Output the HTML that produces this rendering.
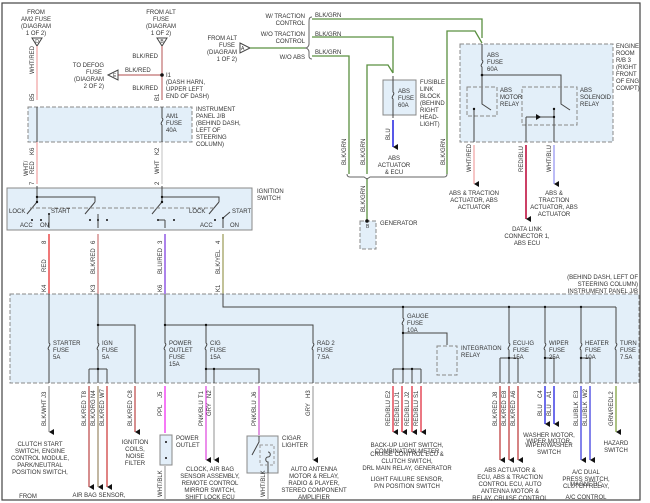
<!DOCTYPE html>
<html><head><style>
html,body{margin:0;padding:0;background:#fff;}
svg{display:block;font-family:"Liberation Sans",sans-serif;}
text{font-size:6px;fill:#333;}
.c{text-anchor:middle}
.e{text-anchor:end}
.box{fill:#e3eff9;stroke:#888;stroke-width:1;stroke-dasharray:4,2}
.sb{fill:#e3eff9;stroke:#888;stroke-width:1}
.k{stroke:#444;stroke-width:1;fill:none}
.g{stroke:#5a9040;stroke-width:1.3;fill:none}
</style></head><body>
<svg width="650" height="503" viewBox="0 0 650 503">
<rect x="2" y="3" width="638" height="497" fill="#fff" stroke="#444" stroke-width="1.2"/>
<defs>
<marker id="a" markerWidth="6" markerHeight="6" refX="3" refY="5" orient="auto-start-reverse" markerUnits="userSpaceOnUse"><path d="M0,0L6,0L3,5z" fill="#111"/></marker>
</defs>

<!-- top labels -->
<text class="c" x="36" y="14">FROM</text><text class="c" x="36" y="21">AM2 FUSE</text><text class="c" x="36" y="28">(DIAGRAM</text><text class="c" x="36" y="35">1 OF 2)</text>
<path d="M32,38L42,38L37,46z" fill="#fff" stroke="#444"/><text class="c" x="37" y="43" style="font-size:5px">D</text>
<text class="c" x="161" y="14">FROM ALT</text><text class="c" x="161" y="21">FUSE</text><text class="c" x="161" y="28">(DIAGRAM</text><text class="c" x="161" y="35">1 OF 2)</text>
<path d="M157,38L167,38L162,46z" fill="#fff" stroke="#444"/><text class="c" x="162" y="43" style="font-size:5px">B</text>
<line x1="37" y1="46" x2="37" y2="100" stroke="#f0a0a0" stroke-width="1.2"/>
<text transform="translate(34,74) rotate(-90)">WHT/RED</text>
<line x1="162" y1="46" x2="162" y2="100" stroke="#c07070" stroke-width="1.2"/>
<text class="e" x="158" y="58">BLK/RED</text><text class="e" x="158" y="90">BLK/RED</text>
<line x1="118" y1="75" x2="162" y2="75" stroke="#c07070" stroke-width="1.2"/>
<circle cx="162" cy="75" r="1.8" fill="#111"/>
<path d="M108,75L118,70L118,80z" fill="#fff" stroke="#444"/><text x="113" y="77" style="font-size:5px">E</text>
<text x="125" y="72">BLK/RED</text>
<text class="e" x="104" y="67">TO DEFOG</text><text class="e" x="102" y="74">FUSE</text><text class="e" x="104" y="81">(DIAGRAM</text><text class="e" x="104" y="88">2 OF 2)</text>
<text x="166" y="77">I1</text><text x="166" y="84">(DASH HARN,</text><text x="166" y="91">UPPER LEFT</text><text x="166" y="98">END OF DASH)</text>
<text transform="translate(34,101) rotate(-90)">B5</text><text transform="translate(159,101) rotate(-90)">B1</text>

<!-- top JB -->
<rect class="box" x="28" y="107" width="164" height="35"/>
<line class="k" x1="37" y1="107" x2="37" y2="142"/>
<path class="k" d="M162,107V118c3,2 -3,5 0,7V142"/>
<text x="166" y="118">AM1</text><text x="166" y="125">FUSE</text><text x="166" y="132">40A</text>
<text x="196" y="111">INSTRUMENT</text><text x="196" y="118">PANEL J/B</text><text x="196" y="125">(BEHIND DASH,</text><text x="196" y="132">LEFT OF</text><text x="196" y="139">STEERING</text><text x="196" y="146">COLUMN)</text>
<line x1="37" y1="142" x2="37" y2="184" stroke="#f0a0a0" stroke-width="1.2"/>
<line x1="162" y1="142" x2="162" y2="184" stroke="#ccc" stroke-width="1.2"/>
<text transform="translate(28,176) rotate(-90)">WHT/</text><text transform="translate(34,174) rotate(-90)">RED</text>
<text transform="translate(159,174) rotate(-90)">WHT</text>
<text transform="translate(34,155) rotate(-90)">K6</text><text transform="translate(159,155) rotate(-90)">K2</text>
<text transform="translate(34,185) rotate(-90)">7</text><text transform="translate(159,185) rotate(-90)">2</text>

<!-- ignition switch -->
<rect class="sb" x="7" y="188" width="245" height="42"/>
<text x="257" y="193">IGNITION</text><text x="257" y="200">SWITCH</text>
<g class="k">
<path d="M37,186V197H95V202M37,197V202L27,214M95,202L85,214M162,186V197H219V202M162,197V202L152,214M219,202L209,214M49,214V228M98,214V228M165,220V228M158,220H165M223,218V228M223,218L230,212"/>
</g>
<line x1="30" y1="208" x2="215" y2="208" stroke="#888" stroke-dasharray="4,2"/>
<g fill="#111"><circle cx="37" cy="202" r="1.2"/><circle cx="37" cy="197" r="1.2"/><circle cx="32" cy="220" r="1"/><circle cx="41" cy="220" r="1"/><circle cx="49" cy="214" r="1"/><circle cx="90" cy="220" r="1"/><circle cx="98" cy="220" r="1"/><circle cx="107" cy="220" r="1"/><circle cx="162" cy="197" r="1.2"/><circle cx="162" cy="202" r="1.2"/><circle cx="158" cy="220" r="1"/><circle cx="174" cy="220" r="1"/><circle cx="215" cy="220" r="1"/><circle cx="223" cy="218" r="1"/></g>
<text x="9" y="213">LOCK</text><text x="51" y="213">START</text><text x="20" y="227">ACC</text><text x="40" y="227">ON</text>
<text x="189" y="213">LOCK</text><text x="232" y="213">START</text><text x="200" y="227">ACC</text><text x="230" y="227">ON</text>

<!-- switch outputs -->
<line x1="49" y1="234" x2="49" y2="294" stroke="#e83030" stroke-width="1.3"/>
<line x1="98" y1="234" x2="98" y2="294" stroke="#d08080" stroke-width="1.3"/>
<line x1="165" y1="234" x2="165" y2="294" stroke="#8040e0" stroke-width="1.3"/>
<line x1="223" y1="234" x2="223" y2="294" stroke="#a0a060" stroke-width="1.3"/>
<text transform="translate(46,244) rotate(-90)">8</text><text transform="translate(95,244) rotate(-90)">6</text><text transform="translate(162,244) rotate(-90)">3</text><text transform="translate(220,244) rotate(-90)">4</text>
<text transform="translate(46,272) rotate(-90)">RED</text><text transform="translate(95,274) rotate(-90)">BLK/RED</text><text transform="translate(162,274) rotate(-90)">BLU/RED</text><text transform="translate(220,274) rotate(-90)">BLK/YEL</text>
<text transform="translate(46,292) rotate(-90)">K4</text><text transform="translate(95,292) rotate(-90)">K3</text><text transform="translate(162,292) rotate(-90)">K6</text><text transform="translate(220,292) rotate(-90)">K1</text>

<!-- top right traction -->
<text class="e" x="305" y="18">W/ TRACTION</text><text class="e" x="305" y="25">CONTROL</text>
<text class="e" x="305" y="36">W/O TRACTION</text><text class="e" x="305" y="43">CONTROL</text>
<text class="e" x="305" y="59">W/O ABS</text>
<text class="e" x="237" y="40">FROM ALT</text><text class="e" x="235" y="47">FUSE</text><text class="e" x="237" y="54">(DIAGRAM</text><text class="e" x="237" y="61">1 OF 2)</text>
<path d="M240,43L250,48L240,53z" fill="#fff" stroke="#444"/><text x="241" y="50" style="font-size:5px">A</text>
<path class="g" d="M250,48H306"/>
<path class="k" d="M312,17c-3,0 -3,2 -3,6V44c0,3 -3,4 -3,4c0,0 3,1 3,4V56c0,2 1,3 3,3" style="stroke:#666"/>
<text x="315" y="17">BLK/GRN</text><text x="315" y="36">BLK/GRN</text><text x="315" y="54">BLK/GRN</text>
<path class="g" d="M312,19H482V38M312,37H393V73M312,56H349V174M367,174V65H388L393,73M447,174V31H475L482,43"/>
<path class="g" d="M367,178V220"/>
<path d="M347,174c0,2 1,3 3,3H364l3,2 3,-2H444c2,0 3,-1 3,-3" fill="none" stroke="#666"/>
<text transform="translate(346,165) rotate(-90)">BLK/GRN</text><text transform="translate(365,165) rotate(-90)">BLK/GRN</text><text transform="translate(445,165) rotate(-90)">BLK/GRN</text><text transform="translate(365,212) rotate(-90)">BLK/GRN</text>
<rect class="box" x="360" y="221" width="16" height="28"/><circle cx="367" cy="221" r="1.8" fill="#111"/>
<text x="366" y="228" style="font-size:5px">B</text><text x="380" y="225">GENERATOR</text>

<!-- fusible link -->
<rect class="sb" x="383" y="80" width="33" height="35"/>
<path class="k" d="M393,76V92c3,2 -3,5 0,7V118"/>
<text x="398" y="93">ABS</text><text x="398" y="100">FUSE</text><text x="398" y="107">60A</text>
<text x="420" y="84">FUSIBLE</text><text x="420" y="91">LINK</text><text x="420" y="98">BLOCK</text><text x="420" y="105">(BEHIND</text><text x="420" y="112">RIGHT</text><text x="420" y="119">HEAD-</text><text x="420" y="126">LIGHT)</text>
<line x1="393" y1="120" x2="393" y2="147" stroke="#2020e0" stroke-width="1.5" marker-end="url(#a)"/>
<text transform="translate(390,140) rotate(-90)">BLU</text>
<text class="c" x="394" y="160">ABS</text><text class="c" x="394" y="167">ACTUATOR</text><text class="c" x="394" y="174">&amp; ECU</text>

<!-- engine room JB -->
<rect class="box" x="460" y="44" width="153" height="98"/>
<text x="616" y="48">ENGINE</text><text x="616" y="55">ROOM</text><text x="616" y="62">R/B 3</text><text x="616" y="69">(RIGHT</text><text x="616" y="76">FRONT</text><text x="616" y="83">OF ENG</text><text x="616" y="90">COMPT)</text>
<path class="k" d="M482,44V60c3,2 -3,5 0,7V75H561V87M482,75V104L491,110M561,87V104L570,110"/>
<text x="487" y="57">ABS</text><text x="487" y="64">FUSE</text><text x="487" y="71">60A</text>
<circle cx="482" cy="75" r="1.3" fill="#111"/>
<rect x="467" y="87" width="30" height="29" fill="none" stroke="#888" stroke-dasharray="4,2"/>
<rect x="522" y="87" width="55" height="38" fill="none" stroke="#888" stroke-dasharray="4,2"/>
<text x="500" y="92">ABS</text><text x="500" y="99">MOTOR</text><text x="500" y="106">RELAY</text>
<text x="580" y="92">ABS</text><text x="580" y="99">SOLENOID</text><text x="580" y="106">RELAY</text>
<path class="k" d="M474,109V142M554,109V142M526,117H554M526,117V142"/>
<path d="M536,114L536,120L541,117z" fill="#111"/>
<circle cx="474" cy="109" r="1.2" fill="#111"/><circle cx="554" cy="109" r="1.2" fill="#111"/><circle cx="554" cy="117" r="1.2" fill="#111"/>
<line x1="474" y1="145" x2="474" y2="184" stroke="#f0a0a0" stroke-width="1.2" marker-end="url(#a)"/>
<line x1="526" y1="145" x2="526" y2="219" stroke="#c01040" stroke-width="1.6" marker-end="url(#a)"/>
<line x1="554" y1="145" x2="554" y2="184" stroke="#9090f0" stroke-width="1.2" marker-end="url(#a)"/>
<text transform="translate(471,172) rotate(-90)">WHT/RED</text><text transform="translate(523,172) rotate(-90)">RED/BLU</text><text transform="translate(551,172) rotate(-90)">WHT/BLU</text>
<text class="c" x="474" y="195">ABS &amp; TRACTION</text><text class="c" x="474" y="202">ACTUATOR, ABS</text><text class="c" x="474" y="209">ACTUATOR</text>
<text class="c" x="554" y="195">ABS &amp;</text><text class="c" x="554" y="202">TRACTION</text><text class="c" x="554" y="209">ACTUATOR, ABS</text><text class="c" x="554" y="216">ACTUATOR</text>
<text class="c" x="527" y="231">DATA LINK</text><text class="c" x="527" y="238">CONNECTOR 1,</text><text class="c" x="527" y="245">ABS ECU</text>

<!-- main JB -->
<text class="e" x="638" y="279">(BEHIND DASH, LEFT OF</text><text class="e" x="638" y="286">STEERING COLUMN)</text><text class="e" x="638" y="293">INSTRUMENT PANEL J/B</text>
<rect class="box" x="10" y="294" width="629" height="89"/>
<g class="k">
<path d="M49,294V343c3,2 -3,5 0,7V383"/>
<path d="M98,294V343c3,2 -3,5 0,7V383M98,325H135V383M89,369H107M89,369V383M107,369V383"/>
<path d="M165,294V343c3,2 -3,5 0,7V383M165,325H313V343c3,2 -3,5 0,7V383M206,325V343c3,2 -3,5 0,7V383M206,369H259V383M214,369V383"/>
<path d="M223,294V307H616M403,307V318c3,2 -3,5 0,7V369M403,333H447V345M393,369H421M393,369V383M412,369V383M421,369V383M403,369V383"/>
<path d="M509,307V343c3,2 -3,5 0,7V383M500,358H518M500,358V383M518,358V383"/>
<path d="M545,307V343c3,2 -3,5 0,7V383M545,358H554V383"/>
<path d="M581,307V343c3,2 -3,5 0,7V383M581,358H590V383"/>
<path d="M616,307V343c3,2 -3,5 0,7V383"/>
</g>
<g fill="#111"><circle cx="98" cy="325" r="1.2"/><circle cx="165" cy="325" r="1.2"/><circle cx="206" cy="325" r="1.2"/><circle cx="98" cy="369" r="1.2"/><circle cx="206" cy="369" r="1.2"/><circle cx="214" cy="369" r="1.2"/><circle cx="403" cy="307" r="1.2"/><circle cx="509" cy="307" r="1.2"/><circle cx="545" cy="307" r="1.2"/><circle cx="581" cy="307" r="1.2"/><circle cx="403" cy="333" r="1.2"/><circle cx="403" cy="369" r="1.2"/><circle cx="412" cy="369" r="1.2"/><circle cx="509" cy="358" r="1.2"/><circle cx="545" cy="358" r="1.2"/><circle cx="581" cy="358" r="1.2"/></g>
<rect x="437" y="346" width="20" height="29" fill="none" stroke="#888" stroke-dasharray="4,2"/>
<text x="461" y="350">INTEGRATION</text><text x="461" y="357">RELAY</text>
<text x="53" y="345">STARTER</text><text x="53" y="352">FUSE</text><text x="53" y="359">5A</text>
<text x="102" y="345">IGN</text><text x="102" y="352">FUSE</text><text x="102" y="359">5A</text>
<text x="169" y="345">POWER</text><text x="169" y="352">OUTLET</text><text x="169" y="359">FUSE</text><text x="169" y="366">15A</text>
<text x="210" y="345">CIG</text><text x="210" y="352">FUSE</text><text x="210" y="359">15A</text>
<text x="317" y="345">RAD 2</text><text x="317" y="352">FUSE</text><text x="317" y="359">7.5A</text>
<text x="407" y="318">GAUGE</text><text x="407" y="325">FUSE</text><text x="407" y="332">10A</text>
<text x="513" y="345">ECU-IG</text><text x="513" y="352">FUSE</text><text x="513" y="359">15A</text>
<text x="549" y="345">WIPER</text><text x="549" y="352">FUSE</text><text x="549" y="359">25A</text>
<text x="585" y="345">HEATER</text><text x="585" y="352">FUSE</text><text x="585" y="359">10A</text>
<text x="620" y="345">TURN</text><text x="620" y="352">FUSE</text><text x="620" y="359">7.5A</text>

<!-- bottom wires -->
<g stroke-width="1.3" fill="none">
<line x1="49" y1="386" x2="49" y2="432" stroke="#999" marker-end="url(#a)"/>
<line x1="89" y1="386" x2="89" y2="487" stroke="#c05050" marker-end="url(#a)"/>
<line x1="98" y1="386" x2="98" y2="487" stroke="#a09070" marker-end="url(#a)"/>
<line x1="107" y1="386" x2="107" y2="487" stroke="#d04040" marker-end="url(#a)"/>
<line x1="135" y1="386" x2="135" y2="432" stroke="#c05050" marker-end="url(#a)"/>
<line x1="165" y1="386" x2="165" y2="433" stroke="#f030f0"/>
<line x1="206" y1="386" x2="206" y2="460" stroke="#e050e0" marker-end="url(#a)"/>
<line x1="214" y1="386" x2="214" y2="460" stroke="#aaa" marker-end="url(#a)"/>
<line x1="259" y1="386" x2="259" y2="435" stroke="#d060d0"/>
<line x1="313" y1="386" x2="313" y2="460" stroke="#aaa" marker-end="url(#a)"/>
<line x1="393" y1="386" x2="393" y2="432" stroke="#e03040" marker-end="url(#a)"/>
<line x1="402" y1="386" x2="402" y2="432" stroke="#e03040" marker-end="url(#a)"/>
<line x1="412" y1="386" x2="412" y2="432" stroke="#e03040" marker-end="url(#a)"/>
<line x1="421" y1="386" x2="421" y2="432" stroke="#e03040" marker-end="url(#a)"/>
<line x1="500" y1="386" x2="500" y2="460" stroke="#c04040" marker-end="url(#a)"/>
<line x1="509" y1="386" x2="509" y2="460" stroke="#c04040" marker-end="url(#a)"/>
<line x1="518" y1="386" x2="518" y2="460" stroke="#c04040" marker-end="url(#a)"/>
<line x1="545" y1="386" x2="545" y2="424" stroke="#2020e0" marker-end="url(#a)"/>
<line x1="554" y1="386" x2="554" y2="424" stroke="#2020e0" marker-end="url(#a)"/>
<line x1="581" y1="386" x2="581" y2="460" stroke="#4040e0" marker-end="url(#a)"/>
<line x1="590" y1="386" x2="590" y2="460" stroke="#4040e0" marker-end="url(#a)"/>
<line x1="616" y1="386" x2="616" y2="432" stroke="#80a040" marker-end="url(#a)"/>
<line x1="165" y1="466" x2="165" y2="500" stroke="#aaa"/>
<line x1="268" y1="473" x2="268" y2="500" stroke="#aaa"/>
</g>
<g>
<text transform="translate(46,398) rotate(-90)">J3</text><text transform="translate(46,426) rotate(-90)">BLK/WHT</text>
<text transform="translate(86,398) rotate(-90)">T8</text><text transform="translate(95,398) rotate(-90)">N4</text><text transform="translate(104,398) rotate(-90)">W7</text>
<text transform="translate(86,426) rotate(-90)">BLK/RED</text><text transform="translate(95,426) rotate(-90)">BLK/ORG</text><text transform="translate(104,426) rotate(-90)">BLK/RED</text>
<text transform="translate(132,398) rotate(-90)">C8</text><text transform="translate(132,426) rotate(-90)">BLK/RED</text>
<text transform="translate(162,398) rotate(-90)">J5</text><text transform="translate(162,416) rotate(-90)">PPL</text>
<text transform="translate(203,398) rotate(-90)">T1</text><text transform="translate(211,398) rotate(-90)">N2</text>
<text transform="translate(203,426) rotate(-90)">PNK/BLU</text><text transform="translate(211,416) rotate(-90)">GRY</text>
<text transform="translate(256,398) rotate(-90)">J6</text><text transform="translate(256,426) rotate(-90)">PNK/BLU</text>
<text transform="translate(310,398) rotate(-90)">H3</text><text transform="translate(310,416) rotate(-90)">GRY</text>
<text transform="translate(390,398) rotate(-90)">E2</text><text transform="translate(399,398) rotate(-90)">J1</text><text transform="translate(409,398) rotate(-90)">J2</text><text transform="translate(418,398) rotate(-90)">S1</text>
<text transform="translate(390,426) rotate(-90)">RED/BLU</text><text transform="translate(399,426) rotate(-90)">RED/BLU</text><text transform="translate(409,426) rotate(-90)">RED/BLU</text><text transform="translate(418,426) rotate(-90)">RED/BLU</text>
<text transform="translate(497,398) rotate(-90)">J8</text><text transform="translate(506,398) rotate(-90)">E8</text><text transform="translate(515,398) rotate(-90)">A6</text>
<text transform="translate(497,426) rotate(-90)">BLK/RED</text><text transform="translate(506,426) rotate(-90)">BLK/RED</text><text transform="translate(515,426) rotate(-90)">BLK/RED</text>
<text transform="translate(542,398) rotate(-90)">C4</text><text transform="translate(551,398) rotate(-90)">A1</text>
<text transform="translate(542,416) rotate(-90)">BLU</text><text transform="translate(551,416) rotate(-90)">BLU</text>
<text transform="translate(578,398) rotate(-90)">E3</text><text transform="translate(587,398) rotate(-90)">W2</text>
<text transform="translate(578,426) rotate(-90)">BLU/BLK</text><text transform="translate(587,426) rotate(-90)">BLU/BLK</text>
<text transform="translate(613,398) rotate(-90)">L2</text><text transform="translate(613,426) rotate(-90)">GRN/RED</text>
</g>
<!-- outlet / lighter -->
<rect class="sb" x="160" y="435" width="12" height="30"/><circle cx="166" cy="442" r="1" fill="#111"/><circle cx="166" cy="458" r="1" fill="#111"/>
<text x="176" y="440">POWER</text><text x="176" y="447">OUTLET</text>
<rect class="sb" x="247" y="436" width="31" height="37"/>
<path class="k" d="M259,436V442L252,455M268,473V462c-3,0 -3,-5 0,-5c3,0 3,-5 0,-5"/>
<rect x="260" y="445" width="14" height="20" fill="none" stroke="#999" stroke-dasharray="3,2"/>
<text x="282" y="440">CIGAR</text><text x="282" y="447">LIGHTER</text>
<text transform="translate(162,497) rotate(-90)">WHT/BLK</text><text transform="translate(265,497) rotate(-90)">WHT/BLK</text>
<!-- bottom descriptions -->
<g class="c">
<text x="40" y="446">CLUTCH START</text><text x="40" y="453">SWITCH, ENGINE</text><text x="40" y="460">CONTROL MODULE,</text><text x="40" y="467">PARK/NEUTRAL</text><text x="40" y="474">POSITION SWITCH,</text>
<text x="28" y="498">FROM</text>
<text x="99" y="497">AIR BAG SENSOR,</text>
<text x="135" y="444">IGNITION</text><text x="135" y="451">COILS,</text><text x="135" y="458">NOISE</text><text x="135" y="465">FILTER</text>
<text x="210" y="471">CLOCK, AIR BAG</text><text x="210" y="478">SENSOR ASSEMBLY,</text><text x="210" y="485">REMOTE CONTROL</text><text x="210" y="492">MIRROR SWITCH,</text><text x="210" y="499">SHIFT LOCK ECU</text>
<text x="314" y="471">AUTO ANTENNA</text><text x="314" y="478">MOTOR &amp; RELAY,</text><text x="314" y="485">RADIO &amp; PLAYER,</text><text x="314" y="492">STEREO COMPONENT</text><text x="314" y="499">AMPLIFIER</text>
<text x="407" y="447">BACK-UP LIGHT SWITCH,</text><text x="407" y="453">COMBINATION METER</text><text x="407" y="456">CRUISE CONTROL ECU &amp;</text><text x="407" y="463">CLUTCH SWITCH,</text><text x="407" y="470">DRL MAIN RELAY, GENERATOR</text>
<text x="407" y="481">LIGHT FAILURE SENSOR,</text><text x="407" y="488">P/N POSITION SWITCH</text>
<text x="510" y="472">ABS ACTUATOR &amp;</text><text x="510" y="479">ECU, ABS &amp; TRACTION</text><text x="510" y="486">CONTROL ECU, AUTO</text><text x="510" y="493">ANTENNA MOTOR &amp;</text><text x="510" y="500">RELAY, CRUISE CONTROL</text>
<text x="549" y="437">WASHER MOTOR,</text><text x="549" y="443">WIPER MOTOR,</text><text x="549" y="447">WIPER/WASHER</text><text x="549" y="454">SWITCH</text>
<text x="586" y="474">A/C DUAL</text><text x="586" y="481">PRESS SWITCH,</text><text x="586" y="486">MAGNETIC</text><text x="586" y="488">CLUTCH RELAY,</text><text x="586" y="499">A/C CONTROL</text>
<text x="616" y="445">HAZARD</text><text x="616" y="452">SWITCH</text>
</g>
</svg>
</body></html>
